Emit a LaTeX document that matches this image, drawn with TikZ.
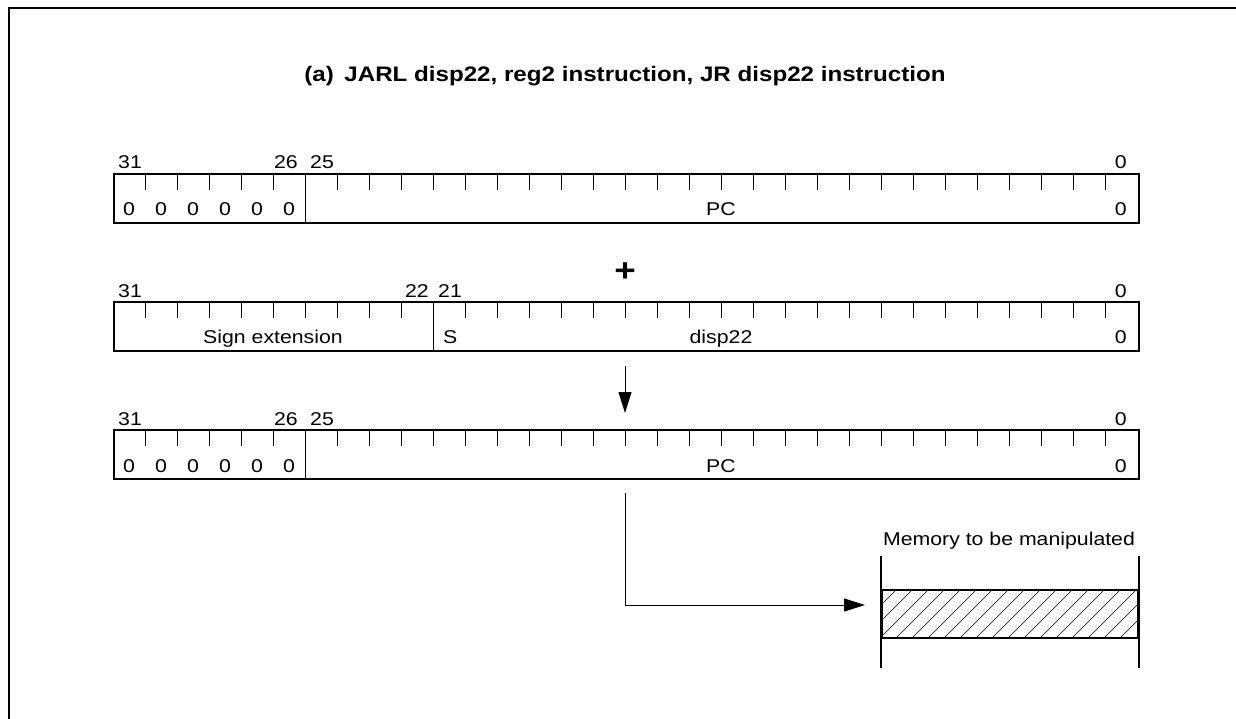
\documentclass[tikz,border=0pt]{standalone}
\usepackage{fontspec}
\setmainfont{Liberation Sans}[FakeStretch=1.15]
\usetikzlibrary{arrows.meta}
\tikzset{
  lab/.style={inner sep=0pt, font=\fontsize{18.5}{20}\selectfont},
  regbox/.style={draw, line width=2pt, minimum width=1025pt, minimum height=49pt, anchor=north west, inner sep=0pt},
  tickln/.style={line width=0.9pt},
  sep/.style={line width=1pt},
  frame/.style={line width=2pt},
  conn/.style={line width=1pt, -{Triangle[length=21pt,width=13pt]}},
  hatch/.style={line width=0.6pt},
  memside/.style={line width=1.6pt}
}
\begin{document}
\begin{tikzpicture}[x=1pt,y=-1pt]
\useasboundingbox (0,0) rectangle (1236,719);
\draw[frame] (8.5,719) -- (8.5,8.5) -- (1236,8.5);

% title
\node[inner sep=0pt, font=\fontsize{21}{24}\selectfont\bfseries, anchor=base] (title) at (625,82) {(a)\enspace JARL disp22, reg2 instruction, JR disp22 instruction};

% register 1
\node[regbox] (r1) at (113,173) {};
\foreach \i in {1,...,31} {\draw[tickln] (r1.north west) ++(\i*32.03,0) -- ++(0,17);}
\draw[sep] (r1.north west) ++(6*32.03,0) -- ++(0,49);
\node[lab, anchor=base west] (r1b31) at (118,169) {31};
\node[lab, anchor=base east] (r1b26) at (298,169) {26};
\node[lab, anchor=base west] (r1b25) at (310,169) {25};
\node[lab, anchor=base east] (r1b0) at (1127,169) {0};
\foreach \k in {0,...,5} {\node[lab, anchor=base] (r1z\k) at (129+\k*32.03,216) {0};}
\node[lab, anchor=base] (r1pc) at (721,216) {PC};
\node[lab, anchor=base east] (r1z) at (1127,216) {0};

% plus
\node[inner sep=0pt, font=\fontsize{32}{34}\selectfont\bfseries] (plus) at (625,272) {+};

% register 2
\node[regbox] (r2) at (113,301) {};
\foreach \i in {1,...,31} {\draw[tickln] (r2.north west) ++(\i*32.03,0) -- ++(0,17);}
\draw[sep] (r2.north west) ++(10*32.03,0) -- ++(0,49);
\node[lab, anchor=base west] (r2b31) at (118,297) {31};
\node[lab, anchor=base east] (r2b22) at (429,297) {22};
\node[lab, anchor=base west] (r2b21) at (438,297) {21};
\node[lab, anchor=base east] (r2b0) at (1127,297) {0};
\node[lab, anchor=base] (sext) at (273,343) {Sign extension};
\node[lab, anchor=base west] (sbit) at (443,343) {S};
\node[lab, anchor=base] (disp) at (721,343) {disp22};
\node[lab, anchor=base east] (r2z) at (1127,343) {0};

% arrow between
\coordinate (a0) at (625,366);
\coordinate (a1) at (625,413);
\draw[conn] (a0) -- (a1);

% register 3
\node[regbox] (r3) at (113,429) {};
\foreach \i in {1,...,31} {\draw[tickln] (r3.north west) ++(\i*32.03,0) -- ++(0,17);}
\draw[sep] (r3.north west) ++(6*32.03,0) -- ++(0,49);
\node[lab, anchor=base west] (r3b31) at (118,425) {31};
\node[lab, anchor=base east] (r3b26) at (298,425) {26};
\node[lab, anchor=base west] (r3b25) at (310,425) {25};
\node[lab, anchor=base east] (r3b0) at (1127,425) {0};
\foreach \k in {0,...,5} {\node[lab, anchor=base] (r3z\k) at (129+\k*32.03,472) {0};}
\node[lab, anchor=base] (r3pc) at (721,472) {PC};
\node[lab, anchor=base east] (r3z) at (1127,472) {0};

% memory
\begin{scope}
\clip (881,589) rectangle (1137,637);
\foreach \k in {-4,...,17} {\draw[hatch] (881+\k*16,637) -- ++(60,-60);}
\end{scope}
\node[draw, line width=2pt, minimum width=256pt, minimum height=48pt, anchor=north west, inner sep=0pt] (mem) at (881,589) {};
\draw[memside] (mem.north west) ++(0,-33) -- ++(0,112);
\draw[memside] (mem.north east) ++(0,-33) -- ++(0,112);
\node[lab, anchor=base] (memlab) at (1009,545) {Memory to be manipulated};

% connector
\coordinate (c0) at (625,493);
\coordinate (c1) at (865,605);
\draw[conn] (c0) |- (c1);
\end{tikzpicture}
\end{document}
